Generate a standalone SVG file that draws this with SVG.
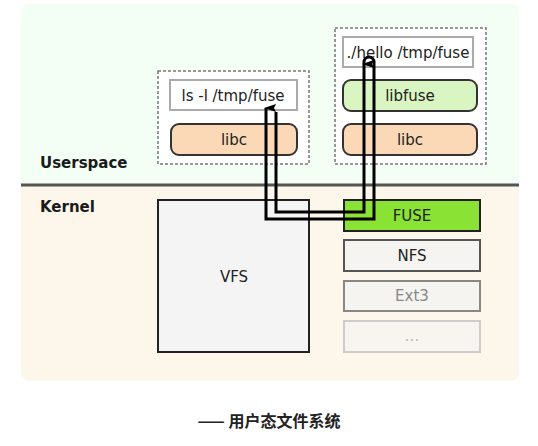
<svg xmlns="http://www.w3.org/2000/svg" width="538" height="446" viewBox="0 0 538 446">
<style>
text{font-family:"DejaVu Sans","Liberation Sans",sans-serif;font-size:15px;text-anchor:middle;fill:#222}
.lbl{font-weight:bold;text-anchor:start;font-size:15px;fill:#1a1a1a}
.dash{fill:#ffffff;stroke:#777;stroke-width:1.5;stroke-dasharray:3,2}
.cmd{fill:#ffffff;stroke:#aaa;stroke-width:2}
.libc{fill:#fcd9b6;stroke:#333;stroke-width:2}
.libfuse{fill:#d9f5c2;stroke:#333;stroke-width:2}
.conn{fill:none;stroke:#000;stroke-width:3;stroke-linejoin:miter}
</style>
<defs>
<marker id="ah" markerWidth="8" markerHeight="12" refX="4" refY="2" orient="auto-start-reverse" markerUnits="userSpaceOnUse" viewBox="0 0 8 12">
<path d="M4,0 L8,12 L4,10 L0,12 Z" fill="#000"/>
</marker>
</defs>
<rect x="0" y="0" width="538" height="446" fill="#ffffff"/>
<g id="regions">
<path d="M21,185 V12 A8,8 0 0 1 29,4 H511 A8,8 0 0 1 519,12 V185 Z" fill="#f3fff5"/>
<path d="M21,185 V373 A8,8 0 0 0 29,381 H511 A8,8 0 0 0 519,373 V185 Z" fill="#fdf6ea"/>
<line x1="21" y1="185" x2="519" y2="185" stroke="#555" stroke-width="3"/>
<text class="lbl" x="40" y="168">Userspace</text>
<text class="lbl" x="40" y="212">Kernel</text>
</g>
<g id="proc-ls">
<rect class="dash" x="158" y="71" width="151" height="93"/>
</g>
<g id="ls">
<rect class="cmd" x="170" y="80" width="127" height="30"/>
<text x="233" y="101">ls -l /tmp/fuse</text>
</g>
<g id="libc-left">
<rect class="libc" x="171" y="124" width="126" height="31" rx="8"/>
<text x="234" y="145">libc</text>
</g>
<g id="proc-hello">
<rect class="dash" x="335" y="28" width="151" height="136"/>
</g>
<g id="hello">
<rect class="cmd" x="343" y="37" width="130" height="30"/>
<text x="408" y="58">./hello /tmp/fuse</text>
</g>
<g id="libfuse">
<rect class="libfuse" x="343" y="80" width="134" height="31" rx="8"/>
<text x="410" y="101">libfuse</text>
</g>
<g id="libc-right">
<rect class="libc" x="343" y="124" width="134" height="31" rx="8"/>
<text x="410" y="145">libc</text>
</g>
<g id="vfs">
<rect x="158" y="200" width="151" height="152" fill="#f4f4f4" stroke="#222" stroke-width="2"/>
<text x="234" y="282">VFS</text>
</g>
<g id="fuse">
<rect x="344" y="200" width="136" height="31" fill="#8ae234" stroke="#222" stroke-width="2"/>
<text x="412" y="221">FUSE</text>
</g>
<g id="nfs">
<rect x="344" y="240" width="136" height="31" fill="#f6f4f0" stroke="#555" stroke-width="2"/>
<text x="412" y="261" fill="#333">NFS</text>
</g>
<g id="ext3">
<rect x="344" y="281" width="136" height="30" fill="#f6f4f0" stroke="#888" stroke-width="2"/>
<text x="412" y="301" style="fill:#888">Ext3</text>
</g>
<g id="more">
<rect x="344" y="321" width="136" height="31" fill="#f8f5f0" stroke="#ccc" stroke-width="2"/>
<text x="412" y="341" style="fill:#bbb">...</text>
</g>
<g id="connectors">
<path class="conn" d="M276,112 V212 H364 V64" marker-end="url(#ah)"/>
<path class="conn" d="M364,64 V62 A5,5 0 0 1 374,62 V219 H266 V108" marker-end="url(#ah)"/>
</g>
<text x="269" y="427" style="font-family:'Noto Sans CJK SC','DejaVu Sans',sans-serif;font-weight:bold;font-size:16px;fill:#222">—— 用户态文件系统</text>
</svg>
